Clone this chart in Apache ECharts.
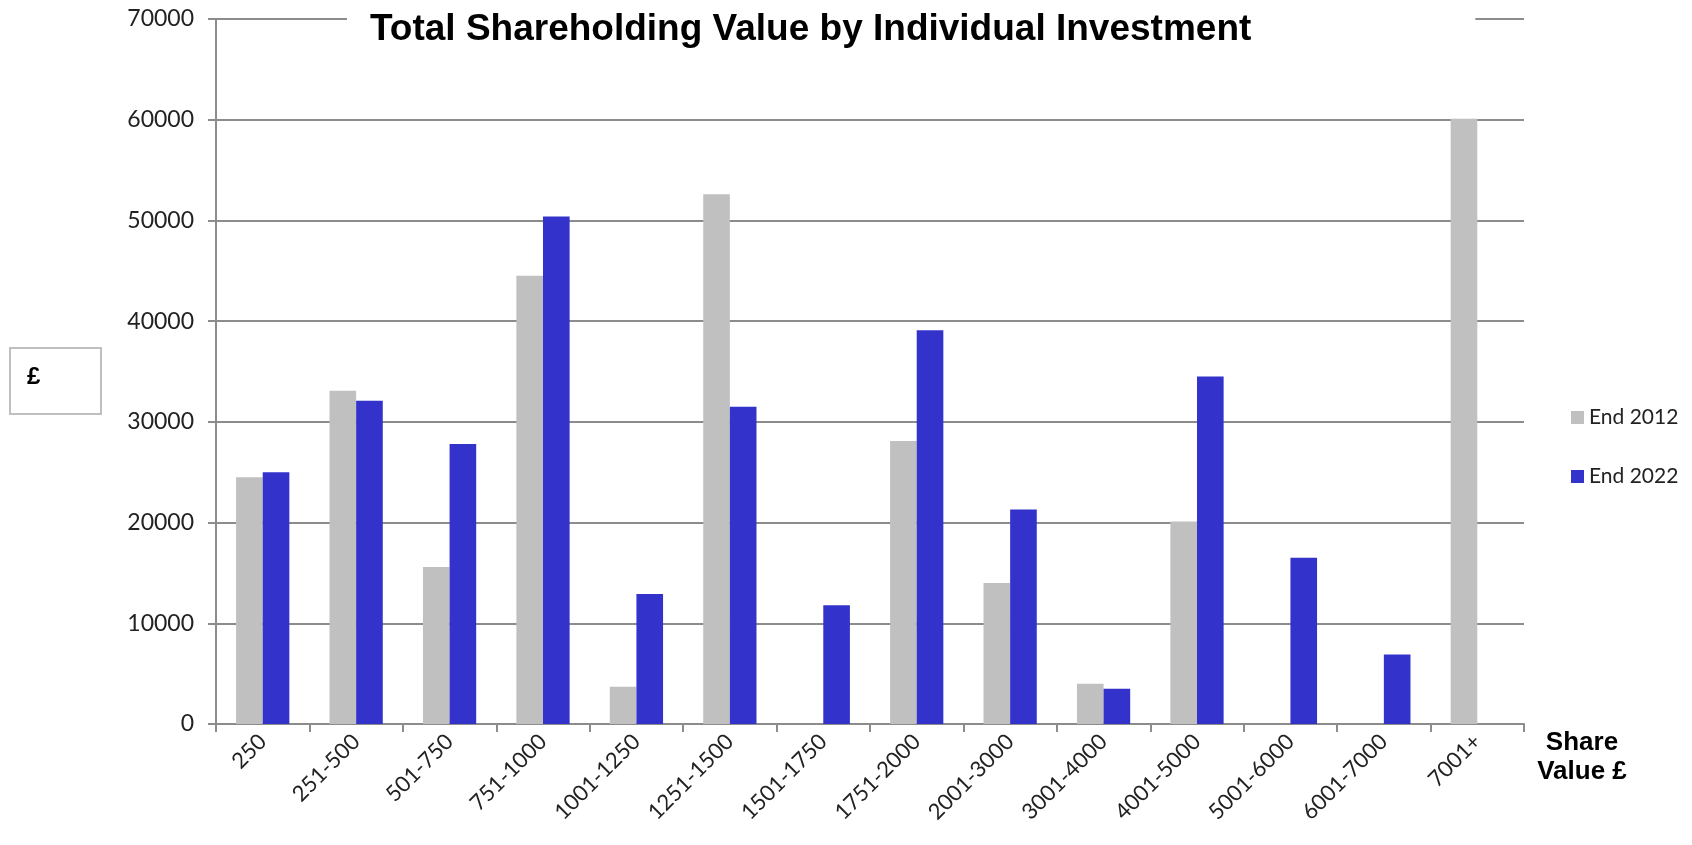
<!DOCTYPE html>
<html>
<head>
<meta charset="utf-8">
<title>Total Shareholding Value by Individual Investment</title>
<script src="https://cdn.jsdelivr.net/npm/echarts@6/dist/echarts.min.js"></script>
<style>
  html, body { margin: 0; padding: 0; background: #fff; }
  #chart { width: 1692px; height: 845px; }
</style>
</head>
<body>
<div id="chart"></div>
<script>
// share value bands
var categories = ['250', '251-500', '501-750', '751-1000', '1001-1250', '1251-1500', '1501-1750',
  '1751-2000', '2001-3000', '3001-4000', '4001-5000', '5001-6000', '6001-7000', '7001+']

// total value held, £
var end2012 = [24500, 33100, 15600, 44500, 3700, 52600, 0, 28100, 14000, 4000, 20100, 0, 0, 60100]
var end2022 = [25000, 32100, 27800, 50400, 12900, 31500, 11800, 39100, 21300, 3500, 34500, 16500, 6900, 0]

var yTicks = [0, 10000, 20000, 30000, 40000, 50000, 60000, 70000]

var grey = '#c0c0c0'
var blue = '#3333cc'
var lineGrey = '#8c8c8c'
var labelFont = 'Lato, "Open Sans", sans-serif'

var chart = echarts.init(document.getElementById('chart'))

var option = {
  backgroundColor: '#fff',
  animation: false,
  title: {
    text: 'Total Shareholding Value by Individual Investment',
    left: 347,
    top: 6,
    backgroundColor: '#fff',
    padding: [5, 224, 5, 23],
    textStyle: {
      fontFamily: '"Liberation Sans", Arial, sans-serif',
      fontWeight: 'bold',
      fontSize: 37,
      color: '#000'
    }
  },
  legend: {
    orient: 'vertical',
    left: 1566,
    top: 402,
    itemWidth: 13,
    itemHeight: 13,
    itemGap: 38,
    icon: 'rect',
    textStyle: { fontFamily: labelFont, fontSize: 21, color: '#222' },
    data: ['End 2012', 'End 2022']
  },
  grid: { left: 216, right: 168, top: 19, bottom: 121, containLabel: false },
  xAxis: {
    type: 'category',
    data: categories,
    name: 'Share\nValue £',
    nameLocation: 'end',
    nameGap: 58,
    nameTextStyle: {
      fontFamily: '"Liberation Sans", Arial, sans-serif',
      fontWeight: 'bold',
      fontSize: 26,
      lineHeight: 29,
      color: '#000',
      align: 'center',
      verticalAlign: 'top',
      padding: [4, 0, 0, 0]
    },
    axisLine: { lineStyle: { color: lineGrey, width: 2 } },
    axisTick: { show: true, length: 8, lineStyle: { color: lineGrey, width: 2 } },
    axisLabel: {
      rotate: 45,
      margin: 14,
      fontFamily: labelFont,
      fontSize: 22,
      color: '#222',
      interval: 0
    }
  },
  yAxis: {
    type: 'value',
    min: yTicks[0],
    max: yTicks[yTicks.length - 1],
    interval: 10000,
    axisLine: { show: true, lineStyle: { color: lineGrey, width: 2 } },
    axisTick: { show: true, length: 8, lineStyle: { color: lineGrey, width: 2 } },
    splitLine: { lineStyle: { color: lineGrey, width: 2 } },
    axisLabel: {
      margin: 22,
      fontFamily: labelFont,
      fontSize: 23,
      color: '#222',
      formatter: function (v) { return String(v) }
    }
  },
  graphic: [
    {
      type: 'rect',
      left: 9,
      top: 347,
      shape: { width: 91, height: 66 },
      style: { fill: '#fff', stroke: '#bfbfbf', lineWidth: 2 }
    },
    {
      type: 'text',
      left: 27,
      top: 365,
      style: {
        text: '£',
        font: 'bold 24px "Liberation Sans", Arial, sans-serif',
        fill: '#000'
      }
    }
  ],
  series: [
    {
      name: 'End 2012',
      type: 'bar',
      data: end2012,
      barGap: '0%',
      barCategoryGap: '43%',
      itemStyle: { color: grey }
    },
    {
      name: 'End 2022',
      type: 'bar',
      data: end2022,
      barGap: '0%',
      barCategoryGap: '43%',
      itemStyle: { color: blue }
    }
  ]
}

chart.setOption(option)
</script>
</body>
</html>
